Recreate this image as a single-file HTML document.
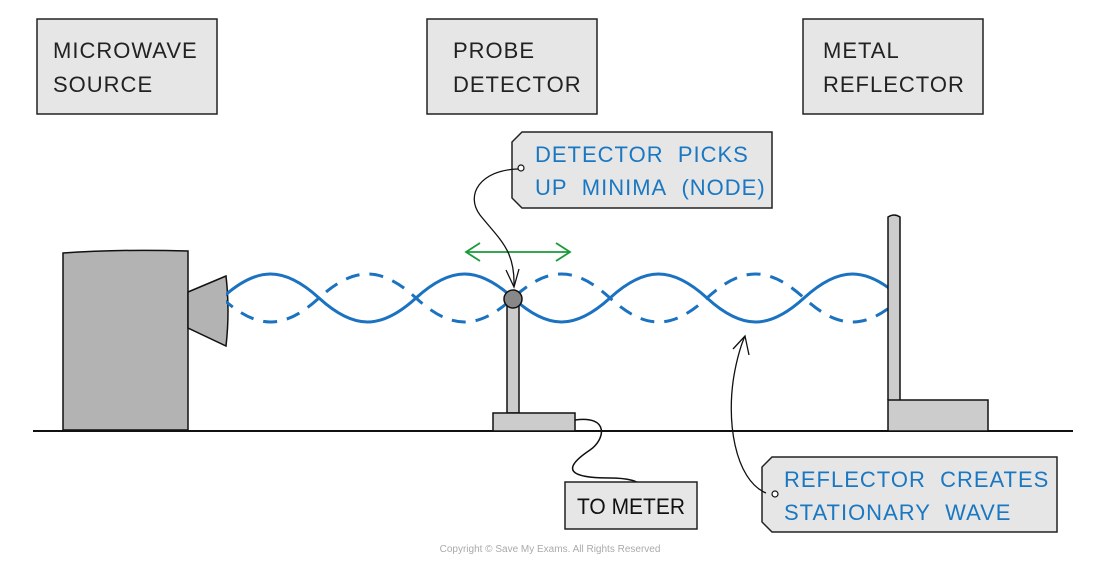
<!DOCTYPE html>
<html><head><meta charset="utf-8"><style>
body{margin:0;background:#fff;}
svg{display:block}
text{font-family:"Liberation Sans",sans-serif;}
</style></head><body>
<svg width="1100" height="568" viewBox="0 0 1100 568" xmlns="http://www.w3.org/2000/svg">
<defs>
<clipPath id="wc"><rect x="226" y="240" width="662" height="120"/></clipPath>
</defs>
<g fill="#e6e6e6" stroke="#222" stroke-width="1.5">
<rect x="37" y="19" width="180" height="95"/>
<rect x="427" y="19" width="170" height="95"/>
<rect x="803" y="19" width="180" height="95"/>
</g>
<g font-size="22" fill="#222" letter-spacing="1">
<text x="53" y="58">MICROWAVE</text><text x="53" y="92">SOURCE</text>
<text x="453" y="58">PROBE</text><text x="453" y="92">DETECTOR</text>
<text x="823" y="58">METAL</text><text x="823" y="92">REFLECTOR</text>
</g>
<line x1="33" y1="431" x2="1073" y2="431" stroke="#111" stroke-width="2"/>
<path d="M63 253 Q120 249 188 251 L188 430 L63 430 Z" fill="#b3b3b3" stroke="#111" stroke-width="1.5"/>
<path d="M188 292 L226 276 Q230 311 226 346 L188 328 Z" fill="#b3b3b3" stroke="#111" stroke-width="1.5"/>
<g clip-path="url(#wc)" fill="none" stroke="#1a72c0" stroke-width="3">
<path d="M222 298 C257 266 284 266 319 298 S 381 330 416 298 S 478 266 513 298 S 575 330 610 298 S 672 266 707 298 S 769 330 804 298 S 866 266 901 298"/>
<path stroke-dasharray="14 10" d="M222 298 C257 330 284 330 319 298 S 381 266 416 298 S 478 330 513 298 S 575 266 610 298 S 672 330 707 298 S 769 266 804 298 S 866 330 901 298"/>
</g>
<rect x="507" y="305" width="12" height="108" fill="#ccc" stroke="#111" stroke-width="1.5"/>
<rect x="493" y="413" width="82" height="18" fill="#ccc" stroke="#111" stroke-width="1.5"/>
<circle cx="513" cy="299" r="9" fill="#888" stroke="#111" stroke-width="1.5"/>
<path d="M575 420 C610 415 605 440 590 450 C560 470 570 478 610 478 C630 478 638 482 640 484" fill="none" stroke="#111" stroke-width="1.5"/>
<path d="M888 400 L888 217 Q894 213 900 217 L900 400" fill="#ccc" stroke="#111" stroke-width="1.5"/>
<rect x="888" y="400" width="100" height="31" fill="#ccc" stroke="#111" stroke-width="1.5"/>
<g stroke="#1a9a3a" stroke-width="1.8" fill="none">
<line x1="466" y1="252" x2="570" y2="252"/>
<path d="M480 243 L466 252 L480 261"/><path d="M556 243 L570 252 L556 261"/>
</g>
<path d="M522 132 L772 132 L772 208 L522 208 L512 198 L512 142 Z" fill="#e6e6e6" stroke="#222" stroke-width="1.5"/>
<g font-size="22" fill="#1a78c2" letter-spacing="1">
<text x="535" y="162">DETECTOR&#160;&#160;PICKS</text>
<text x="535" y="195">UP&#160;&#160;MINIMA&#160;&#160;(NODE)</text>
</g>
<path d="M772 457 L1057 457 L1057 532 L772 532 L762 522 L762 467 Z" fill="#e6e6e6" stroke="#222" stroke-width="1.5"/>
<g font-size="22" fill="#1a78c2" letter-spacing="1">
<text x="784" y="487">REFLECTOR&#160;&#160;CREATES</text>
<text x="784" y="520">STATIONARY&#160;&#160;WAVE</text>
</g>
<rect x="565" y="482" width="132" height="47" fill="#e6e6e6" stroke="#222" stroke-width="1.5"/>
<text x="577" y="514" font-size="22" fill="#111" textLength="108" lengthAdjust="spacingAndGlyphs">TO METER</text>
<g fill="none" stroke="#111" stroke-width="1.3">
<path d="M518 169 C480 170 465 195 480 215 C500 240 515 250 514 286"/>
<path d="M506 270 L514 287 L519 269"/>
<path d="M766 493 C735 480 725 420 735 370 C738 355 741 345 745 336"/>
<path d="M733 349 L745 336 L749 355"/>
</g>
<circle cx="521" cy="168" r="3" fill="#fff" stroke="#111" stroke-width="1.2"/>
<circle cx="775" cy="494" r="3" fill="#fff" stroke="#111" stroke-width="1.2"/>
<text x="550" y="552" font-size="10" fill="#aaa" text-anchor="middle">Copyright © Save My Exams. All Rights Reserved</text>
</svg>
</body></html>
